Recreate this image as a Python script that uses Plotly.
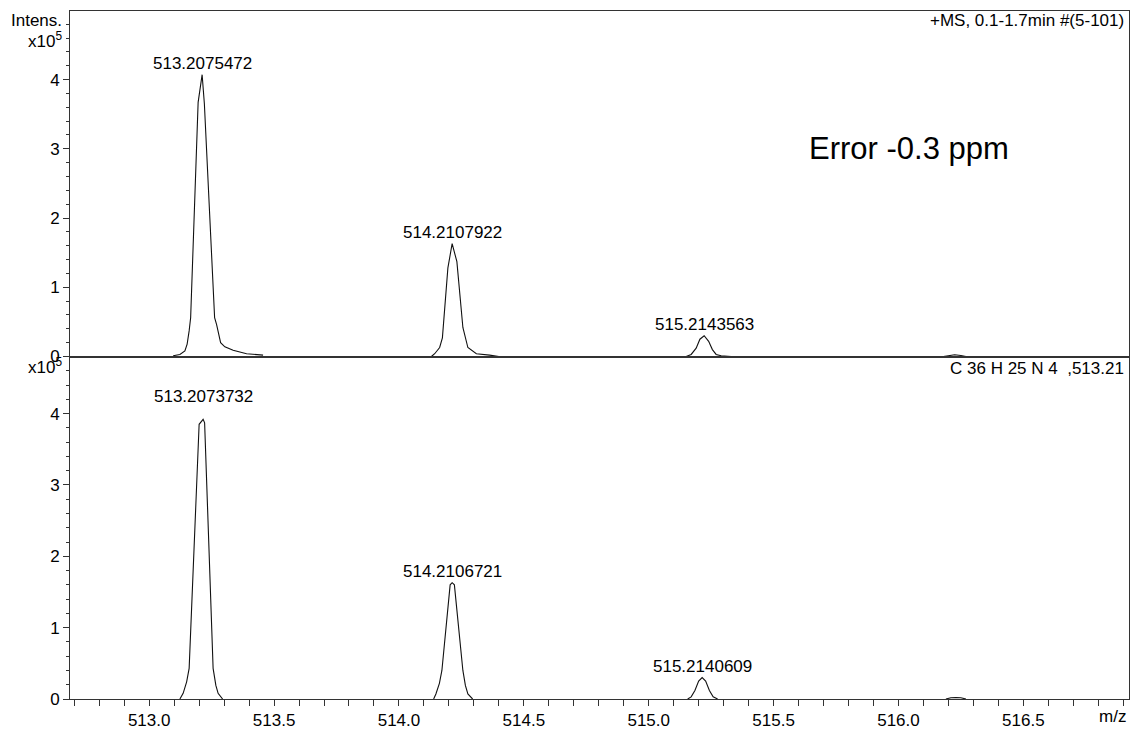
import plotly.graph_objects as go

FONT = "Liberation Sans, Arial, sans-serif"

# ---------------- data (intensity in units of 1e5) ----------------
# measured spectrum (top panel)
top_p1_mz = [513.096, 513.123, 513.143, 513.152, 513.160, 513.166, 513.196, 513.212, 513.221, 513.262, 513.270, 513.286, 513.303, 513.336, 513.390, 513.456]
top_p1_int = [0.01, 0.03, 0.08, 0.18, 0.37, 0.56, 3.67, 4.07, 3.65, 0.56, 0.46, 0.20, 0.14, 0.09, 0.04, 0.02]
top_p2_mz = [514.130, 514.143, 514.163, 514.174, 514.196, 514.213, 514.232, 514.256, 514.276, 514.310, 514.363, 514.400]
top_p2_int = [0.00, 0.04, 0.13, 0.27, 1.28, 1.63, 1.37, 0.42, 0.13, 0.04, 0.02, 0.00]
top_p3_mz = [515.150, 515.170, 515.190, 515.205, 515.222, 515.240, 515.255, 515.270, 515.290, 515.330]
top_p3_int = [0.00, 0.03, 0.12, 0.25, 0.30, 0.22, 0.10, 0.03, 0.01, 0.00]
top_p4_mz = [516.180, 516.200, 516.225, 516.250, 516.270]
top_p4_int = [0.00, 0.015, 0.025, 0.015, 0.00]

# simulated isotope pattern (bottom panel)
bot_p1_mz = [513.123, 513.136, 513.150, 513.160, 513.200, 513.216, 513.222, 513.256, 513.267, 513.276, 513.294]
bot_p1_int = [0.00, 0.08, 0.24, 0.43, 3.85, 3.92, 3.87, 0.43, 0.19, 0.08, 0.00]
bot_p2_mz = [514.139, 514.148, 514.162, 514.172, 514.205, 514.213, 514.222, 514.256, 514.266, 514.276, 514.295]
bot_p2_int = [0.00, 0.07, 0.22, 0.40, 1.60, 1.63, 1.60, 0.40, 0.19, 0.07, 0.00]
bot_p3_mz = [515.156, 515.170, 515.185, 515.200, 515.214, 515.228, 515.243, 515.258, 515.276]
bot_p3_int = [0.00, 0.03, 0.12, 0.25, 0.30, 0.25, 0.12, 0.03, 0.00]
bot_p4_mz = [516.190, 516.210, 516.230, 516.250, 516.270]
bot_p4_int = [0.00, 0.018, 0.022, 0.018, 0.00]

top_labels = ["513.2075472", "514.2107922", "515.2143563"]
top_label_mz = [513.212, 514.213, 515.222]
top_label_int = [4.07, 1.63, 0.30]
bot_labels = ["513.2073732", "514.2106721", "515.2140609"]
bot_label_mz = [513.216, 514.213, 515.214]
bot_label_int = [3.92, 1.63, 0.30]
bot_label_shift = [11, 0, 0]

x_range = [512.683, 516.923]
top_y_range = [0, 4.99]
bot_y_range = [0, 4.8]

LINE = "#111111"
AX = "#333333"

W, H = 1133, 733

fig = go.Figure()
for mz, it in [(top_p1_mz, top_p1_int), (top_p2_mz, top_p2_int),
               (top_p3_mz, top_p3_int), (top_p4_mz, top_p4_int)]:
    fig.add_trace(go.Scatter(x=mz, y=it, mode="lines", xaxis="x", yaxis="y",
                             line=dict(color=LINE, width=1.1), showlegend=False,
                             hoverinfo="skip"))
for mz, it in [(bot_p1_mz, bot_p1_int), (bot_p2_mz, bot_p2_int),
               (bot_p3_mz, bot_p3_int), (bot_p4_mz, bot_p4_int)]:
    fig.add_trace(go.Scatter(x=mz, y=it, mode="lines", xaxis="x2", yaxis="y2",
                             line=dict(color=LINE, width=1.1), showlegend=False,
                             hoverinfo="skip"))

split = 0.4978
yax_common = dict(showline=True, linecolor=AX, linewidth=1, mirror=True,
                  showgrid=False, zeroline=False, ticks="outside", ticklen=6,
                  tickcolor=AX, tickmode="linear", tick0=0, dtick=1,
                  tickfont=dict(family=FONT, size=17, color="black"),
                  minor=dict(dtick=0.2, ticks="outside", ticklen=3.5, tickcolor=AX,
                             showgrid=False),
                  fixedrange=True)

fig.update_layout(
    width=W, height=H,
    margin=dict(l=70, r=3, t=11, b=29),
    paper_bgcolor="white", plot_bgcolor="white",
    font=dict(family=FONT, size=17, color="black"),
    xaxis=dict(domain=[0, 1], anchor="y", range=x_range, showline=True,
               linecolor=AX, linewidth=1, mirror=True, showgrid=False,
               zeroline=False, ticks="", showticklabels=False),
    yaxis=dict(domain=[split, 1], anchor="x", range=top_y_range, **yax_common),
    xaxis2=dict(domain=[0, 1], anchor="y2", range=x_range, showline=True,
                linecolor=AX, linewidth=1, mirror=True, showgrid=False,
                zeroline=False, ticks="outside", ticklen=6, tickcolor=AX,
                tickmode="linear", tick0=513.0, dtick=0.5, tickformat=".1f",
                tickfont=dict(family=FONT, size=17, color="black"),
                minor=dict(dtick=0.1, tick0=513.0, ticks="outside", ticklen=6,
                           tickcolor=AX, showgrid=False)),
    yaxis2=dict(domain=[0, split], anchor="x2", range=bot_y_range, **yax_common),
)

ann = []
for t, x, y in zip(top_labels, top_label_mz, top_label_int):
    ann.append(dict(x=x, y=y, xref="x", yref="y", text=t, showarrow=False,
                    xanchor="center", yanchor="bottom",
                    font=dict(family=FONT, size=17, color="black")))
for t, x, y, s in zip(bot_labels, bot_label_mz, bot_label_int, bot_label_shift):
    ann.append(dict(x=x, y=y, xref="x2", yref="y2", text=t, showarrow=False,
                    xanchor="center", yanchor="bottom", yshift=s,
                    font=dict(family=FONT, size=17, color="black")))

# screen pixel -> paper fraction (plot area spans x 70..1130, y 11..704)
def px_to_paper(px_x, px_y):
    return (px_x - 70) / 1060.0, (704 - px_y) / 693.0

def add_text(text, px_x, px_y, xanchor, size=17):
    x, y = px_to_paper(px_x, px_y)
    ann.append(dict(x=x, y=y, xref="paper", yref="paper", text=text,
                    showarrow=False, xanchor=xanchor, yanchor="middle",
                    font=dict(family=FONT, size=size, color="black")))

add_text("Intens.", 64, 21, "right")
add_text("x10<sup>5</sup>", 64, 40, "right")
add_text("x10<sup>5</sup>", 64, 369, "right")
add_text("+MS, 0.1-1.7min #(5-101)", 1127, 21, "right")
add_text("C 36 H 25 N 4 \u00a0,513.21", 1127, 371, "right")
add_text("Error -0.3 ppm", 808, 150, "left", size=31)
add_text("m/z", 1129, 722, "right")

fig.update_layout(annotations=ann)
fig.write_html(
    "out.html",
    config={"displayModeBar": False, "staticPlot": True},
    post_script="document.body.style.margin='0';document.body.style.overflow='hidden';",
)
